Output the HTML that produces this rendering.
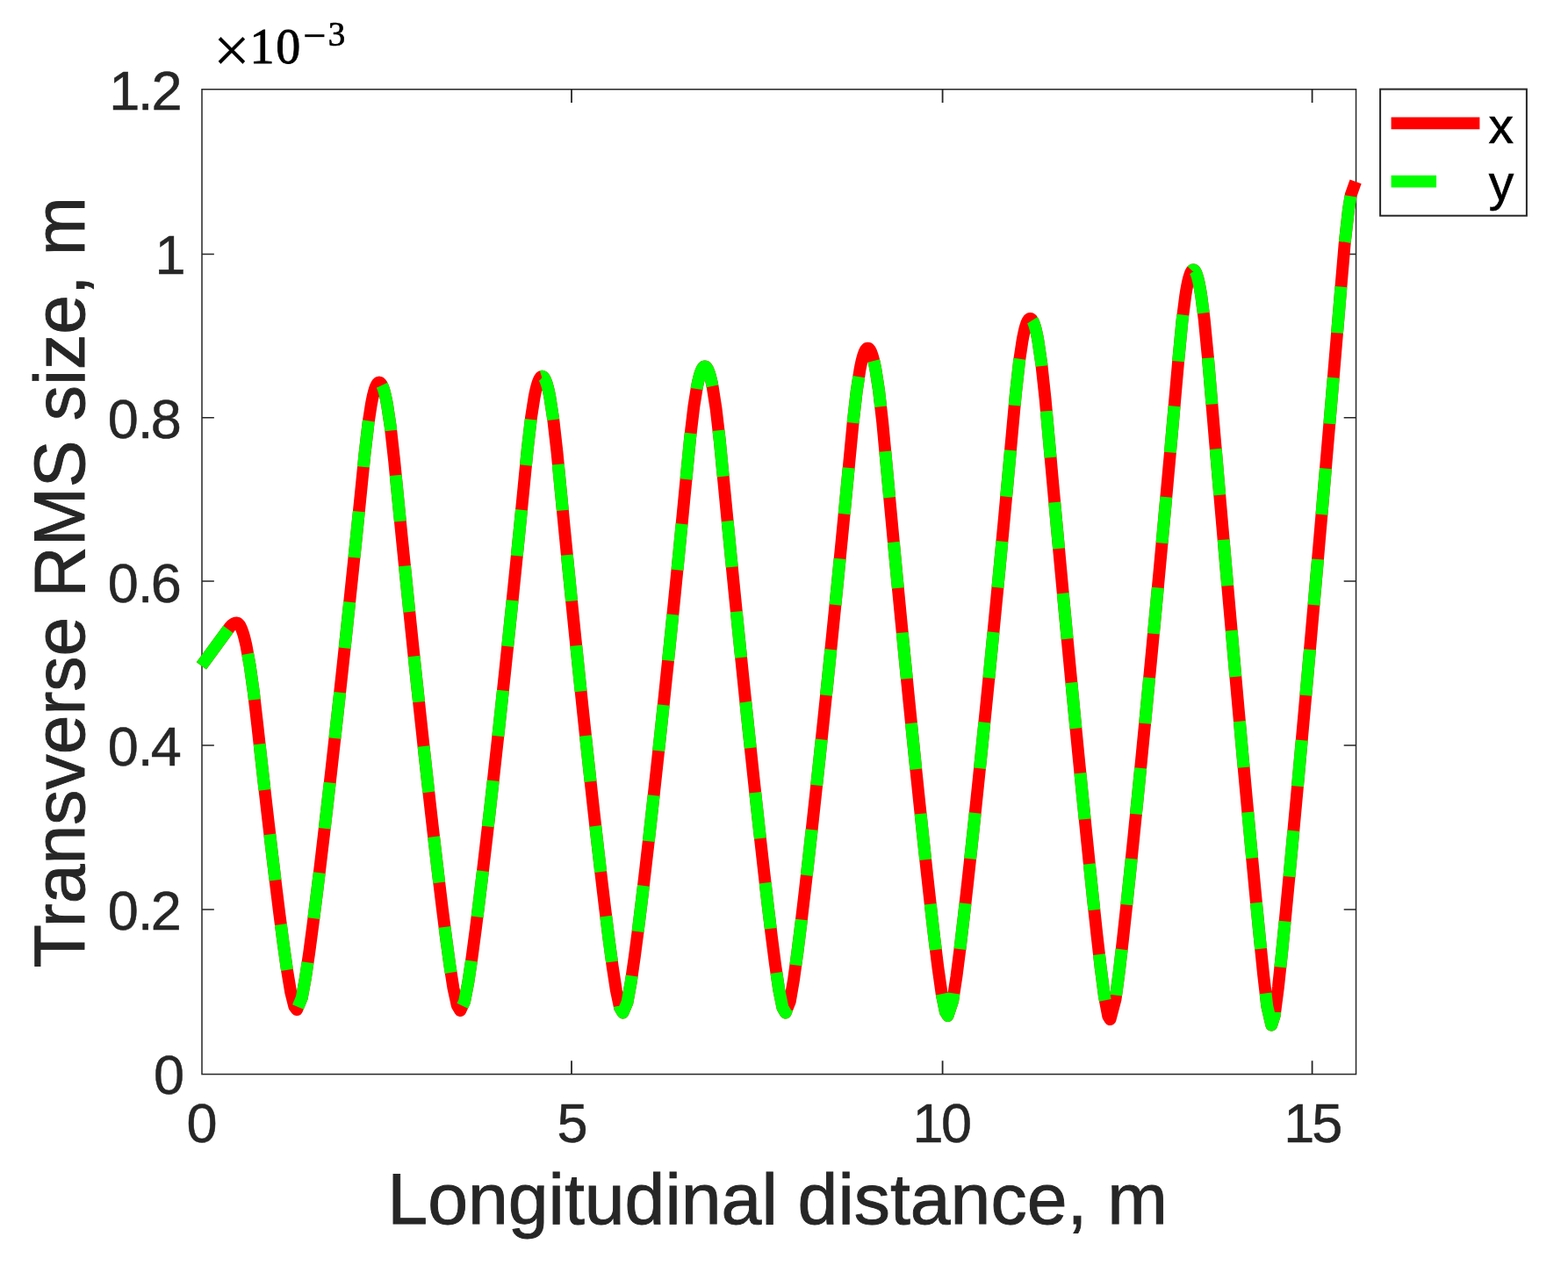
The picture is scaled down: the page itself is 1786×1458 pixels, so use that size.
<!DOCTYPE html>
<html lang="en"><head><meta charset="utf-8"><title>Transverse RMS size vs longitudinal distance</title>
<style>
html,body{margin:0;padding:0;background:#fff;overflow:hidden;}
svg{display:block;}
text{font-family:"Liberation Sans",sans-serif;fill:#262626;white-space:pre;}
.k{fill:#000;}
.se{font-family:"Liberation Serif",serif;}
.dj{font-family:"DejaVu Sans",sans-serif;}
</style></head><body>
<svg width="1786" height="1458" viewBox="0 0 1786 1458">
<rect x="0" y="0" width="1786" height="1458" fill="#fff"/>
<rect x="230.0" y="101.75" width="1314.55" height="1121.85" fill="none" stroke="#262626" stroke-width="1.5"/>
<path d="M651.0,1223.6v-15.3M651.0,101.75v15.3M1073.6,1223.6v-15.3M1073.6,101.75v15.3M1494.6,1223.6v-15.3M1494.6,101.75v15.3" fill="none" stroke="#262626" stroke-width="1.8"/>
<path d="M230.0,289.5h13.85M1544.55,289.5h-13.85M230.0,475.8h13.85M1544.55,475.8h-13.85M230.0,662.0h13.85M1544.55,662.0h-13.85M230.0,849.0h13.85M1544.55,849.0h-13.85M230.0,1036.0h13.85M1544.55,1036.0h-13.85" fill="none" stroke="#262626" stroke-width="1.5"/>
<path d="M229.40,758.32L234.21,751.77L238.43,746.04L242.64,740.31L246.85,734.58L251.06,728.85L255.28,723.12L259.49,717.39L260.50,716.02L261.50,714.67L262.50,713.46L263.50,712.41L264.50,711.52L265.50,710.79L266.50,710.23L267.50,709.82L268.50,709.58L269.50,709.50L270.50,709.72L271.50,710.36L272.50,711.44L273.50,712.95L274.50,714.89L275.50,717.25L276.50,720.04L277.50,723.26L278.50,726.89L280.56,735.67L284.77,759.03L288.98,789.30L293.20,825.83L297.41,863.70L301.62,900.98L305.83,937.60L310.05,973.48L314.26,1008.48L318.47,1042.36L322.69,1074.65L326.90,1104.42L331.11,1129.71L335.33,1146.51L338.15,1150.15L343.75,1136.67L347.96,1113.70L352.18,1085.16L356.39,1053.59L360.60,1020.18L364.82,985.53L369.03,949.92L373.24,913.54L377.46,876.49L381.67,838.82L385.88,800.57L390.09,761.77L394.31,722.44L398.52,682.57L402.73,642.18L406.95,601.27L411.16,559.83L415.37,517.91L419.59,481.62L422.89,460.31L423.89,455.13L424.89,450.56L425.89,446.58L426.89,443.22L427.89,440.46L428.89,438.31L429.89,436.78L430.89,435.86L431.89,435.55L432.89,435.86L433.89,436.78L434.89,438.31L435.89,440.46L436.89,443.22L437.89,446.58L438.89,450.56L439.89,455.13L440.89,460.31L444.86,486.69L449.08,524.56L453.29,567.66L457.50,610.16L461.72,652.05L465.93,693.34L470.14,734.02L474.35,774.08L478.57,813.54L482.78,852.35L486.99,890.51L491.21,927.97L495.42,964.65L499.63,1000.43L503.85,1035.10L508.06,1068.24L512.27,1099.07L516.48,1125.88L520.70,1145.06L524.30,1151.05L529.12,1140.61L533.34,1118.69L537.55,1090.46L541.76,1058.84L545.98,1025.19L550.19,990.17L554.40,954.11L558.61,917.20L562.83,879.53L567.04,841.18L571.25,802.18L575.47,762.54L579.68,722.30L583.89,681.45L588.11,639.98L592.32,597.92L596.53,555.23L600.74,512.20L604.96,475.84L608.48,453.20L609.48,448.09L610.48,443.57L611.48,439.65L612.48,436.32L613.48,433.60L614.48,431.48L615.48,429.96L616.48,429.05L617.48,428.75L618.48,429.05L619.48,429.96L620.48,431.48L621.48,433.60L622.48,436.32L623.48,439.65L624.48,443.57L625.48,448.09L626.48,453.20L630.24,477.62L634.45,514.54L638.66,558.34L642.87,601.82L647.09,644.65L651.30,686.83L655.51,728.37L659.73,769.26L663.94,809.50L668.15,849.08L672.37,887.97L676.58,926.13L680.79,963.50L685.00,999.96L689.22,1035.29L693.43,1069.12L697.64,1100.64L701.86,1128.11L706.07,1147.70L709.50,1153.45L714.49,1141.72L718.71,1118.56L722.92,1089.28L727.13,1056.77L731.35,1022.32L735.56,986.54L739.77,949.72L743.99,912.05L748.20,873.61L752.41,834.46L756.62,794.64L760.84,754.16L765.05,713.02L769.26,671.25L773.48,628.83L777.69,585.75L781.90,542.03L786.12,498.60L790.33,463.11L793.79,441.39L794.79,436.39L795.79,431.96L796.79,428.12L797.79,424.87L798.79,422.20L799.79,420.12L800.79,418.64L801.79,417.75L802.79,417.45L803.79,417.75L804.79,418.64L805.79,420.12L806.79,422.20L807.79,424.87L808.79,428.12L809.79,431.96L810.79,436.39L811.79,441.39L815.61,465.79L819.82,502.13L824.03,545.81L828.25,589.53L832.46,632.68L836.67,675.27L840.88,717.31L845.10,758.78L849.31,799.67L853.52,839.99L857.74,879.69L861.95,918.74L866.16,957.06L870.38,994.55L874.59,1030.98L878.80,1065.97L883.01,1098.69L887.23,1127.35L891.44,1147.80L894.75,1153.55L899.87,1140.44L904.08,1115.74L908.29,1085.01L912.51,1051.17L916.72,1015.49L920.93,978.57L925.14,940.71L929.36,902.06L933.57,862.73L937.78,822.76L942.00,782.19L946.21,741.05L950.42,699.34L954.64,657.06L958.85,614.23L963.06,570.84L967.27,526.88L971.49,482.73L975.70,445.61L979.43,421.26L980.43,416.12L981.43,411.57L982.43,407.62L983.43,404.27L984.43,401.53L985.43,399.40L986.43,397.87L987.43,396.96L988.43,396.65L989.43,396.96L990.43,397.87L991.43,399.40L992.43,401.53L993.43,404.27L994.43,407.62L995.43,411.57L996.43,416.12L997.43,421.26L1000.98,444.30L1005.19,481.01L1009.40,526.16L1013.62,571.93L1017.83,617.05L1022.04,661.54L1026.26,705.40L1030.47,748.63L1034.68,791.23L1038.90,833.17L1043.11,874.45L1047.32,915.03L1051.53,954.83L1055.75,993.76L1059.96,1031.61L1064.17,1067.97L1068.39,1102.02L1072.60,1131.76L1076.81,1152.39L1079.60,1156.95L1085.24,1139.77L1089.45,1112.25L1093.66,1079.29L1097.88,1043.54L1102.09,1006.12L1106.30,967.51L1110.52,927.97L1114.73,887.64L1118.94,846.58L1123.16,804.85L1127.37,762.46L1131.58,719.44L1135.79,675.78L1140.01,631.50L1144.22,586.58L1148.43,541.02L1152.65,494.82L1156.86,448.82L1161.07,411.08L1164.46,388.43L1165.46,383.08L1166.46,378.35L1167.46,374.25L1168.46,370.77L1169.46,367.92L1170.46,365.70L1171.46,364.12L1172.46,363.17L1173.46,362.85L1174.46,363.17L1175.46,364.12L1176.46,365.70L1177.46,367.92L1178.46,370.77L1179.46,374.25L1180.46,378.35L1181.46,383.08L1182.46,388.43L1186.35,415.06L1190.56,454.05L1194.78,500.82L1198.99,547.65L1203.20,593.96L1207.42,639.76L1211.63,685.05L1215.84,729.83L1220.05,774.09L1224.27,817.82L1228.48,860.99L1232.69,903.58L1236.91,945.52L1241.12,986.71L1245.33,1026.96L1249.55,1065.89L1253.76,1102.65L1257.97,1135.09L1262.18,1157.33L1264.50,1161.15L1270.61,1137.90L1274.82,1106.11L1279.04,1069.65L1283.25,1030.88L1287.46,990.74L1291.68,949.63L1295.89,907.76L1300.10,865.23L1304.31,822.12L1308.53,778.44L1312.74,734.24L1316.95,689.51L1321.17,644.27L1325.38,598.52L1329.59,552.25L1333.81,505.48L1338.02,458.18L1342.23,410.37L1346.44,366.18L1350.21,336.77L1351.21,330.62L1352.21,325.19L1353.21,320.47L1354.21,316.46L1355.21,313.19L1356.21,310.63L1357.21,308.81L1358.21,307.72L1359.21,307.35L1360.21,307.72L1361.21,308.81L1362.21,310.63L1363.21,313.19L1364.21,316.46L1365.21,320.47L1366.21,325.19L1367.21,330.62L1368.21,336.77L1371.72,363.97L1375.94,407.67L1380.15,457.50L1384.36,506.98L1388.57,556.11L1392.79,604.88L1397.00,653.31L1401.21,701.37L1405.43,749.06L1409.64,796.37L1413.85,843.28L1418.07,889.76L1422.28,935.74L1426.49,981.14L1430.70,1025.76L1434.92,1069.19L1439.13,1110.44L1443.34,1146.45L1448.30,1167.55L1451.77,1156.39L1455.98,1124.03L1460.20,1084.07L1464.41,1041.24L1468.62,996.98L1472.83,951.83L1477.05,906.04L1481.26,859.73L1485.47,812.96L1489.69,765.79L1493.90,718.23L1498.11,670.30L1502.33,622.00L1506.54,573.35L1510.75,524.35L1514.96,474.99L1519.18,425.28L1523.39,375.22L1527.60,324.81L1531.82,275.67L1536.03,238.40L1538.70,222.10L1544.10,206.90" fill="none" stroke="#ff0000" stroke-width="13.9" stroke-linejoin="round" stroke-linecap="butt"/>
<path d="M229.40,758.32L234.21,751.77L238.43,746.04L242.64,740.31L246.85,734.58L251.06,728.85L255.28,723.12L259.49,717.39L259.93,716.80M282.19,744.75L284.77,759.03L288.98,789.30L289.86,796.96M295.62,847.60L297.41,863.70L301.49,899.86M307.34,950.39L310.05,973.48L313.55,1002.62M319.86,1053.02L322.69,1074.65L326.90,1104.42L326.98,1104.89M339.47,1146.98L343.75,1136.67L347.96,1113.70L350.54,1096.24M357.33,1046.15L360.60,1020.18L363.77,994.17M369.75,943.73L373.24,913.54L375.75,891.51M381.42,841.03L381.67,838.82L385.88,800.57L387.16,788.81M392.62,738.18L394.31,722.44L398.18,685.80M403.46,635.11L406.95,601.27L408.84,582.67M413.97,531.88L415.37,517.91L419.59,481.62L419.93,479.40M435.10,438.77L435.89,440.46L436.89,443.22L437.89,446.58L438.89,450.56L439.89,455.13L440.89,460.31L444.86,486.69L445.29,490.51M450.72,541.32L453.29,567.66L455.88,593.84M460.96,644.59L461.72,652.05L465.93,693.34L466.31,697.00M471.57,747.59L474.35,774.08L477.08,799.62M482.53,850.03L482.78,852.35L486.99,890.51L488.33,902.40M494.09,953.10L495.42,964.65L499.63,1000.43L500.24,1005.43M506.49,1055.93L508.06,1068.24L512.27,1099.07L513.66,1107.91M526.75,1145.74L529.12,1140.61L533.34,1118.69L536.94,1094.57M543.59,1044.28L545.98,1025.19L549.95,992.12M555.84,941.54L558.61,917.20L561.75,889.18M567.32,838.55L571.25,802.18L572.91,786.56M578.22,736.23L579.68,722.30L583.64,683.88M588.79,633.17L592.32,597.92L594.01,580.74M599.00,530.03L600.74,512.20L604.74,477.69M616.87,428.93L617.48,428.75L618.48,429.05L619.48,429.96L620.48,431.48L621.48,433.60L622.48,436.32L623.48,439.65L624.48,443.57L625.48,448.09L626.48,453.20L630.24,477.62L630.30,478.15M635.82,528.85L638.66,558.34L640.89,581.34M645.86,632.14L647.09,644.65L651.08,684.64M656.23,735.37L659.73,769.26L661.64,787.55M666.97,837.99L668.15,849.08L672.37,887.97L672.62,890.30M678.24,940.89L680.79,963.50L684.21,993.12M690.25,1043.55L693.43,1069.12L696.96,1095.55M705.59,1145.49L706.07,1147.70L709.50,1153.45L714.49,1141.72L718.71,1118.56L719.73,1111.45M726.57,1061.11L727.13,1056.77L731.35,1022.32L732.93,1008.90M738.79,958.30L739.77,949.72L743.99,912.05L744.66,905.94M750.17,855.28L752.41,834.46L755.74,803.01M761.01,752.44L765.05,713.02L766.36,700.01M771.45,649.25L773.48,628.83L776.61,596.77M781.52,545.99L781.90,542.03L786.12,498.60L786.72,493.52M793.53,442.99L793.79,441.39L794.79,436.39L795.79,431.96L796.79,428.12L797.79,424.87L798.79,422.20L799.79,420.12L800.79,418.64L801.79,417.75L802.79,417.45L803.79,417.75L804.79,418.64L805.79,420.12L806.79,422.20L807.79,424.87L808.79,428.12L809.79,431.96L810.79,436.39L811.47,439.83M818.45,490.31L819.82,502.13L823.74,542.73M828.63,593.47L832.46,632.68L833.77,645.92M838.81,696.65L840.88,717.31L844.11,749.04M849.30,799.61L849.31,799.67L853.52,839.99L854.79,851.96M860.21,902.65L861.95,918.74L865.94,955.03M871.66,1005.61L874.59,1030.98L877.81,1057.76M884.38,1107.98L887.23,1127.35L891.44,1147.80L894.75,1153.55L896.62,1148.75M906.32,1099.37L908.29,1085.01L912.51,1051.17L912.94,1047.51M918.81,997.16L920.93,978.57L924.67,944.99M930.18,894.43L933.57,862.73L935.73,842.22M940.98,791.98L942.00,782.19L946.21,741.05L946.34,739.77M951.45,688.99L954.64,657.06L956.67,636.43M961.64,585.52L963.06,570.84L966.71,532.82M971.60,481.77L975.70,445.61L978.22,429.13M995.26,410.92L995.43,411.57L996.43,416.12L997.43,421.26L1000.98,444.30L1003.16,463.28M1008.29,514.18L1009.40,526.16L1013.14,566.74M1017.87,617.52L1022.04,661.54L1022.85,669.96M1027.75,720.68L1030.47,748.63L1032.89,773.08M1037.95,823.78L1038.90,833.17L1043.11,874.45L1043.29,876.20M1048.57,926.86L1051.53,954.83L1054.17,979.18M1059.75,1029.72L1059.96,1031.61L1064.17,1067.97L1065.89,1081.86M1072.68,1132.16L1076.81,1152.39L1079.60,1156.95L1085.24,1139.77L1086.51,1131.47M1093.43,1081.14L1093.66,1079.29L1097.88,1043.54L1099.53,1028.91M1105.13,978.30L1106.30,967.51L1110.52,927.97L1110.73,925.92M1116.01,875.21L1118.94,846.58L1121.34,822.79M1126.40,772.21L1127.37,762.46L1131.52,720.03M1136.41,669.27L1140.01,631.50L1141.40,616.70M1146.15,565.76L1148.43,541.02L1150.99,512.98M1155.67,461.77L1156.86,448.82L1161.07,411.08L1161.42,408.75M1175.91,364.84L1176.46,365.70L1177.46,367.92L1178.46,370.77L1179.46,374.25L1180.46,378.35L1181.46,383.08L1182.46,388.43L1186.35,415.06L1186.56,416.97M1191.84,468.25L1194.78,500.82L1196.61,521.17M1201.23,572.23L1203.20,593.96L1206.05,624.91M1210.76,675.74L1211.63,685.05L1215.65,727.74M1220.39,777.52L1224.27,817.82L1225.44,829.80M1230.42,880.60L1232.69,903.58L1235.66,933.12M1240.83,983.91L1241.12,986.71L1245.33,1026.96L1246.35,1036.39M1251.98,1087.11L1253.76,1102.65L1257.97,1135.09L1258.79,1139.41M1271.17,1133.66L1274.82,1106.11L1277.69,1081.33M1283.28,1030.60L1287.46,990.74L1288.76,978.12M1293.92,927.33L1295.89,907.76L1299.15,874.81M1304.13,824.04L1304.31,822.12L1308.53,778.44L1309.15,771.88M1313.91,721.78L1316.95,689.51L1318.82,669.46M1323.52,618.68L1325.38,598.52L1328.33,566.16M1332.92,515.31L1333.81,505.48L1337.62,462.64M1342.13,411.54L1342.23,410.37L1346.44,366.18L1347.42,358.58M1357.67,308.30L1358.21,307.72L1359.21,307.35L1360.21,307.72L1361.21,308.81L1362.21,310.63L1363.21,313.19L1364.21,316.46L1365.21,320.47L1366.21,325.19L1367.21,330.62L1368.21,336.77L1370.77,356.58M1375.94,407.73L1380.15,457.50L1380.40,460.49M1384.74,511.40L1388.57,556.11L1389.25,563.95M1393.65,614.75L1397.00,653.31L1398.22,667.26M1402.70,718.14L1405.43,749.06L1407.37,770.86M1411.92,821.71L1413.85,843.28L1416.66,874.22M1421.30,925.02L1422.28,935.74L1426.16,977.51M1430.95,1028.29L1434.92,1069.19L1436.10,1080.73M1441.58,1131.39L1443.34,1146.45L1448.30,1167.55L1451.77,1156.39L1452.30,1152.31M1458.33,1101.77L1460.20,1084.07L1463.61,1049.41M1468.46,998.71L1468.62,996.98L1472.83,951.83L1473.35,946.27M1478.01,895.52L1481.26,859.73L1482.77,843.03M1487.32,792.24L1489.69,765.79L1491.99,739.74M1496.46,689.10L1498.11,670.30L1501.02,636.98M1505.43,586.17L1506.54,573.35L1509.96,533.58M1514.31,482.71L1514.96,474.99L1518.77,430.11M1523.05,379.22L1523.39,375.22L1527.45,326.61M1531.81,275.72L1531.82,275.67L1536.03,238.40L1538.49,223.36" fill="none" stroke="#00ff00" stroke-width="13.9" stroke-linejoin="round" stroke-linecap="butt"/>
<text x="212.40" y="1300.60" font-size="63" stroke="#262626" stroke-width="0.5">0</text>
<text x="634.60" y="1300.60" font-size="63" stroke="#262626" stroke-width="0.5">5</text>
<text x="1039.50 1072.00" y="1300.60" font-size="63" stroke="#262626" stroke-width="0.5">10</text>
<text x="1462.15 1494.35" y="1300.60" font-size="63" stroke="#262626" stroke-width="0.5">15</text>
<text x="175.10" y="1246.40" font-size="63" stroke="#262626" stroke-width="0.5">0</text>
<text x="122.80 157.10 171.75" y="1059.43" font-size="63" stroke="#262626" stroke-width="0.5">0.2</text>
<text x="122.80 157.10 171.75" y="872.47" font-size="63" stroke="#262626" stroke-width="0.5">0.4</text>
<text x="122.80 157.10 171.75" y="685.50" font-size="63" stroke="#262626" stroke-width="0.5">0.6</text>
<text x="122.80 157.10 171.75" y="498.53" font-size="63" stroke="#262626" stroke-width="0.5">0.8</text>
<text x="176.55" y="311.57" font-size="63" stroke="#262626" stroke-width="0.5">1</text>
<text x="124.35 157.00 172.45" y="124.60" font-size="63" stroke="#262626" stroke-width="0.5">1.2</text>
<text class="k se" font-size="56" stroke="#000" stroke-width="0.9"><tspan x="243.1" y="81.7" font-size="74" stroke-width="0.3">×</tspan><tspan x="284.4 314.3" y="72.1">10</tspan><tspan class="dj" x="343.6" y="51.5" font-size="35.4" stroke="none">−</tspan><tspan x="373.75" y="52.0" font-size="39" stroke-width="0.7">3</tspan></text>
<text x="885.6" y="1394" font-size="82.4" text-anchor="middle" stroke="#262626" stroke-width="0.9">Longitudinal distance, m</text>
<text transform="translate(96.2,663.3) rotate(-90) scale(0.977,1)" font-size="82.4" text-anchor="middle" stroke="#262626" stroke-width="0.9">Transverse RMS size, m</text>
<rect x="1572.1" y="101.6" width="166.8" height="144.1" fill="#fff" stroke="#262626" stroke-width="2"/>
<path d="M1584.6,140.4 H1685.4" stroke="#ff0000" stroke-width="13.9" fill="none"/>
<path d="M1584.6,206.6 H1636.1" stroke="#00ff00" stroke-width="13.9" fill="none"/>
<text class="k" x="1695.5" y="162.6" font-size="57" stroke="#000" stroke-width="0.6">x</text>
<text class="k" x="1695.8" y="227.6" font-size="57" stroke="#000" stroke-width="0.6">y</text>
</svg></body></html>
